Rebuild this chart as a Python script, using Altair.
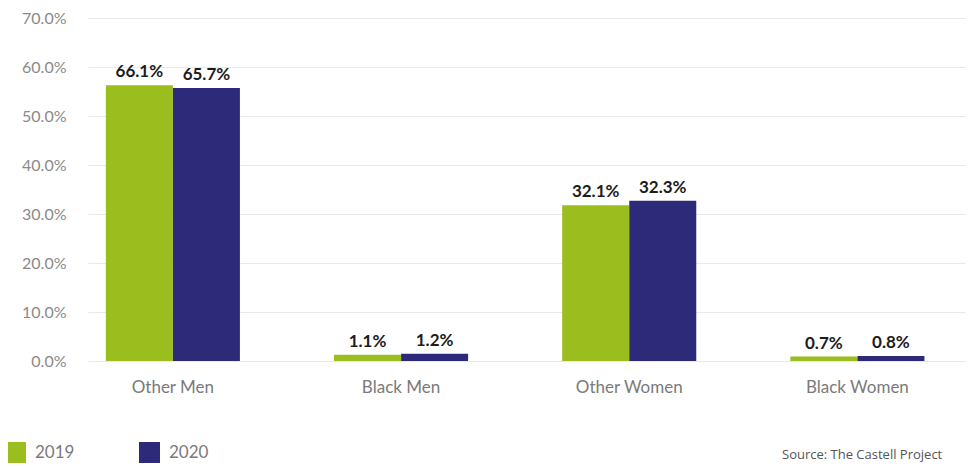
import altair as alt
import pandas as pd

categories = ["Other Men", "Black Men", "Other Women", "Black Women"]
years = ["2019", "2020"]
# bar heights as drawn in the picture (percent)
values_2019 = [56.3, 1.3, 31.8, 0.9]
values_2020 = [55.7, 1.5, 32.7, 1.0]
# printed labels
labels_2019 = ["66.1%", "1.1%", "32.1%", "0.7%"]
labels_2020 = ["65.7%", "1.2%", "32.3%", "0.8%"]
y_ticks = [0, 10, 20, 30, 40, 50, 60, 70]
colors = ["#9cbd1e", "#2e2a7a"]

rows = []
for i, c in enumerate(categories):
    rows.append({"category": c, "year": "2019", "value": values_2019[i], "label": labels_2019[i]})
    rows.append({"category": c, "year": "2020", "value": values_2020[i], "label": labels_2020[i]})
df = pd.DataFrame(rows)

FONT = "Lato"

x_enc = alt.X(
    "category:N",
    sort=categories,
    scale=alt.Scale(paddingInner=0.412, paddingOuter=0.13, align=0.3),
    axis=alt.Axis(
        title=None, labelAngle=0, domain=False, ticks=False, grid=False,
        labelPadding=18, labelFontSize=17, labelColor="#7a7a7a", labelFont=FONT,
    ),
)
y_enc = alt.Y(
    "value:Q",
    scale=alt.Scale(domain=[0, 70], nice=False),
    axis=alt.Axis(
        title=None, values=y_ticks, domain=False, ticks=False,
        labelExpr="format(datum.value, '.1f') + '%'",
        labelPadding=22, labelFontSize=16, labelColor="#8a8a8a", labelFont=FONT,
        gridColor="#e9e9e9", gridWidth=1,
    ),
)

bars = alt.Chart(df).mark_bar(size=67).encode(
    x=x_enc,
    xOffset=alt.XOffset("year:N", sort=years),
    y=y_enc,
    color=alt.Color(
        "year:N",
        scale=alt.Scale(domain=years, range=colors),
        legend=alt.Legend(
            title=None, orient="none", legendX=-83, legendY=424,
            direction="horizontal", symbolType="square", symbolSize=440,
            symbolStrokeWidth=0, labelFontSize=17, labelColor="#7a7a7a",
            labelFont=FONT, labelOffset=9, columnPadding=64, padding=0,
        ),
    ),
)

texts = alt.Chart(df).mark_text(
    baseline="bottom", dy=-4, fontSize=17, fontWeight="bold", color="#1c1c1c", font=FONT
).encode(
    x=alt.X("category:N", sort=categories),
    xOffset=alt.XOffset("year:N", sort=years),
    y="value:Q",
    text="label:N",
)

source = alt.Chart(pd.DataFrame({"t": ["Source: The Castell Project"]})).mark_text(
    align="left", baseline="middle", fontSize=13, color="#555555", font="Open Sans"
).encode(x=alt.value(694), y=alt.value(437), text="t:N")

chart = (
    alt.layer(bars, texts, source)
    .properties(width=878, height=343, autosize=alt.AutoSizeParams(type="none"),
                padding={"left": 80, "top": 10, "right": 0, "bottom": 105})
    .configure_view(stroke=None)
)

chart.save("out.html", embed_options={"renderer": "svg", "actions": False})
